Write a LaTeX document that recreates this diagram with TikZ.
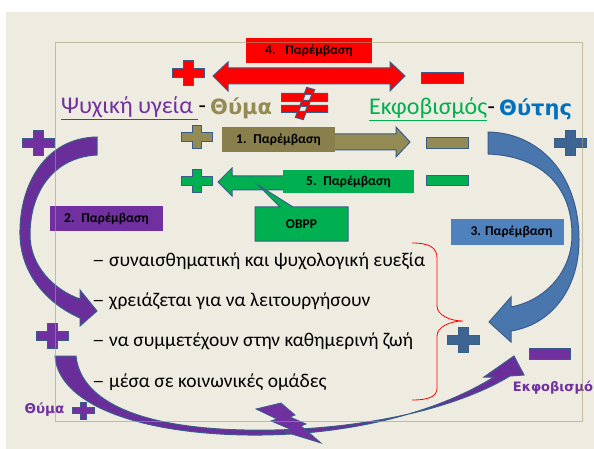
\documentclass[tikz,border=0pt]{standalone}
\usepackage{fontspec}
\setmainfont{Carlito}
\newfontfamily\heavy{DejaVu Sans}
\definecolor{bg}{HTML}{EEECE1}
\definecolor{frm}{HTML}{A59D72}
\definecolor{outl}{HTML}{385D8A}
\definecolor{olv}{HTML}{948A54}
\definecolor{grn}{HTML}{00B050}
\definecolor{prp}{HTML}{7030A0}
\definecolor{prpA}{HTML}{6A2E9A}
\definecolor{blu}{HTML}{4F81BD}
\definecolor{bluA}{HTML}{4A76AE}
\definecolor{bluP}{HTML}{3E6592}
\definecolor{ttl}{HTML}{0070C0}
\newcommand\mkplus[4]{%
  \path[shift={(#1,#2)},scale=#3,fill=#4,draw=outl,line width=1pt]
    (-5,-12.5) -- (5,-12.5) -- (5,-4.5) -- (16,-4.5) -- (16,4.5) -- (5,4.5)
    -- (5,12.5) -- (-5,12.5) -- (-5,4.5) -- (-16,4.5) -- (-16,-4.5) -- (-5,-4.5) -- cycle;}
\newcommand\mkminus[5]{%
  \path[fill=#5,draw=outl,line width=1pt] (#1,#2) rectangle (#3,#4);}
\begin{document}
\begin{tikzpicture}[x=1pt,y=-1pt,
  shp/.style={draw=outl,line width=1pt},
  boxlbl/.style={inner sep=0pt,font=\fontsize{13.5}{16}\selectfont\bfseries,text=black},
  ttlfont/.style={inner sep=0pt,anchor=base west,font=\fontsize{24}{28}\selectfont},
  heavyfont/.style={inner sep=0pt,anchor=base west,font=\heavy\bfseries\fontsize{21}{25}\selectfont},
  bul/.style={inner sep=0pt,anchor=base west,font=\fontsize{19.5}{23}\selectfont}]
\useasboundingbox (0,0) rectangle (594,449);
\fill[white] (0,0) rectangle (594,449);
\fill[bg] (6,12) rectangle (594,449);

% left purple curved arrow
\path[shp,fill=prpA] (97,137) .. controls (45,138) and (19,185) .. (20,235)
  .. controls (21,275) and (48,304) .. (80,318) -- (80,326) -- (97,311) -- (80,290) -- (80,299)
  .. controls (54,290) and (30,266) .. (30,235) .. controls (30,190) and (55,157) .. (97,155) -- cycle;
% right blue curved arrow
\path[shp,fill=bluA] (488,132) .. controls (540,133) and (579,175) .. (579,240)
  .. controls (579,290) and (550,325) .. (511,331) -- (511,342) -- (489,322) -- (511,297) -- (511,307)
  .. controls (547,300) and (572,270) .. (572,235) .. controls (572,185) and (540,156) .. (488,154) -- cycle;
% bottom purple arrow
\path[shp,fill=prpA] (55,356) .. controls (58,398) and (120,428) .. (220,434)
  .. controls (320,440) and (425,420) .. (494,377) -- (484,377) -- (514,356) -- (524,375) -- (510,376)
  .. controls (440,418) and (320,435) .. (220,429) .. controls (125,423) and (80,395) .. (76,356) -- cycle;
% lightning
\path[shp,fill=prp,line width=0.8pt] (256,409) -- (281,403) -- (295,415) -- (290,417) -- (306,424)
  -- (301,426) -- (321,443) -- (285,432) -- (290,429) -- (271,421) -- (277,419) -- cycle;

% red double arrow
\path[shp,fill=red] (213,76) -- (228,62) -- (228,68) -- (390,68) -- (390,62) -- (405,76)
  -- (390,91) -- (390,84) -- (228,84) -- (228,91) -- cycle;
% olive arrow
\path[shp,fill=olv] (250,134) -- (396,134) -- (396,127) -- (410,142) -- (396,157) -- (396,150) -- (250,150) -- cycle;
% green arrow
\path[shp,fill=grn] (218,182) -- (232,168) -- (232,176) -- (300,176) -- (300,190) -- (232,190) -- (232,196) -- cycle;

% boxes
\node[boxlbl,fill=red,minimum width=126pt,minimum height=25pt] (b4) at (309,50.5) {4.\enspace\ Παρέμβαση};
\node[boxlbl,fill=olv!92!black,minimum width=113pt,minimum height=25pt] (b1) at (278.5,139.5) {1.\enspace Παρέμβαση};
\node[boxlbl,fill=grn,minimum width=131pt,minimum height=23pt] (b5) at (348.5,181.5) {5.\enspace Παρέμβαση};
\node[boxlbl,fill=prp,minimum width=113pt,minimum height=25pt] (b2) at (106.5,218.5) {2.\enspace Παρέμβαση};
\node[boxlbl,fill=blu,minimum width=113pt,minimum height=26pt] (b3) at (507.5,232) {\hspace*{8pt}3. Παρέμβαση};
% OBPP callout
\path[shp,fill=grn] (255,207) -- (280,207) -- (258,185) -- (293,207) -- (348,207) -- (348,241) -- (255,241) -- cycle;
\node[boxlbl] (obpp) at (301.5,224) {OBPP};

% plus and minus signs
\mkplus{188}{73.5}{1}{red}
\mkplus{197}{137}{0.95}{olv}
\mkplus{197}{181}{0.95}{grn}
\mkplus{38.5}{143.5}{1}{prp}
\mkplus{570.5}{143.5}{1}{bluP}
\mkplus{52.5}{335.5}{1}{prp}
\mkplus{463.5}{339.5}{1}{bluP}
\mkplus{83.5}{410.5}{0.68}{prp}
\mkminus{421}{73}{463}{84}{red}
\mkminus{426}{138}{468}{149}{olv}
\mkminus{426}{176}{468}{186}{grn}
\mkminus{529}{348}{570}{359}{prp}

% not-equal sign
\path[draw=outl,line width=2pt] (282,94) rectangle (327,101) (282,106) rectangle (327,112)
  (296,117) -- (307,88) -- (314,90) -- (303,119) -- cycle;
\path[fill=red] (282,94) rectangle (327,101) (282,106) rectangle (327,112)
  (296,117) -- (307,88) -- (314,90) -- (303,119) -- cycle;

% title line
\node[ttlfont,text=prp] (psy) at (61,114) {\underline{Ψυχική υγεία\ }};
\node[ttlfont] (d1) at (psy.base east) {-};
\node[heavyfont,text=olv] (thy) at (210,115) {Θύμα};
\node[ttlfont,text=grn] (ekf) at (369,115) {\underline{Εκφοβισμός}};
\node[ttlfont] (d2) at (ekf.base east) {-};
\node[heavyfont,text=ttl] (thyt) at (499,116) {Θύτης};

% bullets
\foreach \yy/\tt [count=\i] in {266/συναισθηματική και ψυχολογική ευεξία,
  306/χρειάζεται για να λειτουργήσουν,
  346/να συμμετέχουν στην καθημερινή ζωή,
  387/μέσα σε κοινωνικές ομάδες}{
  \node[bul] (dash\i) at (92,\yy) {\scalebox{1.3}[1]{–}};
  \node[bul] (item\i) at (109,\yy) {\tt};
}
% brace
\draw[red,line width=0.8pt] (412,243) .. controls (430,243) and (437,248) .. (437,258) -- (437,306)
  .. controls (437,315) and (450,321) .. (463,321) .. controls (450,321) and (437,327) .. (437,336)
  -- (437,388) .. controls (437,396) and (430,400) .. (412,400);

% small labels
\node[inner sep=0pt,text=prp,font=\heavy\bfseries\fontsize{13}{15}\selectfont] (ekf2) at (553,388) {Εκφοβισμό};
\node[inner sep=0pt,text=prp,font=\heavy\bfseries\fontsize{13.5}{15}\selectfont] (thy2) at (44.5,410) {Θύμα};

% frame on top
\draw[frm,line width=1pt,opacity=0.6] (55,43) rectangle (582,421);
\end{tikzpicture}
\end{document}
